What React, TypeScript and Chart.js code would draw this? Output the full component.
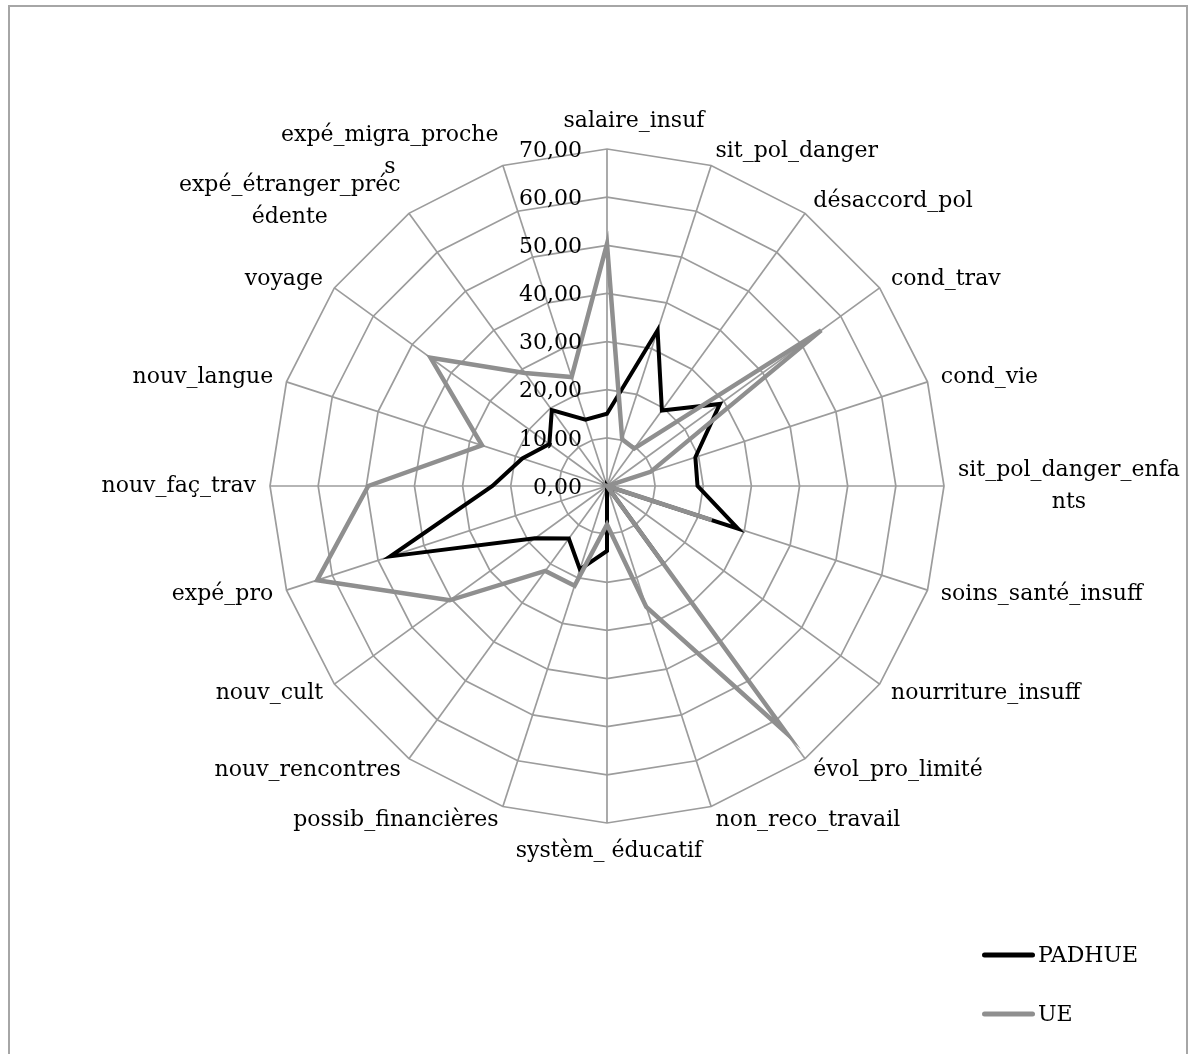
import React, { useEffect, useRef } from "react";
import { Chart, registerables } from "chart.js";

Chart.register(...registerables);

// ---- data ----
const categories: (string | string[])[] = [
  "salaire_insuf",
  "sit_pol_danger",
  "désaccord_pol",
  "cond_trav",
  "cond_vie",
  ["sit_pol_danger_enfa", "nts"],
  "soins_santé_insuff",
  "nourriture_insuff",
  "évol_pro_limité",
  "non_reco_travail",
  "systèm_ éducatif",
  "possib_financières",
  "nouv_rencontres",
  "nouv_cult",
  "expé_pro",
  "nouv_faç_trav",
  "nouv_langue",
  "voyage",
  ["expé_étranger_préc", "édente"],
  ["expé_migra_proche", "s"],
];

const padhueValues = [
  15, 34, 19.4, 29, 19.3, 18.8, 28.6, 0, 20, 0, 13.5, 18.2, 13.5, 18.5, 47.3, 23.8, 18.5, 14.8, 19.5, 14.5,
];

const ueValues = [
  50.3, 10.2, 9.6, 55, 9.5, 0, 22.9, 0, 63.4, 26.4, 8, 21.8, 21.8, 40.4, 63.3, 49.6, 27.3, 45.3, 29, 23.8,
];

const tickValues = [0, 10, 20, 30, 40, 50, 60, 70];

const seriesNames = ["PADHUE", "UE"];
const seriesColors = ["#000000", "#8f8f8f"];

// ---- drawing helpers ----
const FONT = '22px "DejaVu Serif"';

const excelLabelsPlugin = {
  id: "excelLabels",
  afterDraw(chart: any) {
    const scale = chart.scales.r;
    const ctx: CanvasRenderingContext2D = chart.ctx;
    ctx.save();
    ctx.font = FONT;
    ctx.fillStyle = "#000000";

    // tick labels, right-aligned left of the vertical axis
    ctx.textAlign = "right";
    ctx.textBaseline = "middle";
    tickValues.forEach((v) => {
      const d = scale.getDistanceFromCenterForValue(v);
      ctx.fillText(v.toFixed(2).replace(".", ","), scale.xCenter - 25, scale.yCenter - d + 2);
    });

    // category labels
    const labels = chart.data.labels as (string | string[])[];
    const n = labels.length;
    ctx.textAlign = "center";
    labels.forEach((lab, i) => {
      const lines = Array.isArray(lab) ? lab : [lab];
      const theta = (2 * Math.PI * i) / n;
      const s = Math.sin(theta);
      const c = Math.cos(theta);
      const vertical = Math.abs(s) < 1e-6;
      const g = vertical ? 15 : 2;
      const p = scale.getPointPosition(i, scale.drawingArea + g);
      const w = Math.max(...lines.map((l) => ctx.measureText(l).width));
      let cx: number;
      if (vertical) cx = p.x + (c > 0 ? 27 : 2);
      else if (s > 0) cx = p.x + 12 * s + w / 2;
      else cx = p.x + 12 * s - w / 2;
      const cy = p.y - c * 13;
      lines.forEach((l, k) => {
        ctx.fillText(l, cx, cy + (k - (lines.length - 1) / 2) * 32);
      });
    });

    // legend (bottom right)
    const x0 = 974.5;
    const y0 = 948;
    chart.data.datasets.forEach((ds: any, k: number) => {
      const y = y0 + k * 59;
      ctx.strokeStyle = ds.borderColor;
      ctx.lineWidth = 5;
      ctx.lineCap = "round";
      ctx.beginPath();
      ctx.moveTo(x0, y);
      ctx.lineTo(x0 + 48, y);
      ctx.stroke();
      ctx.textAlign = "left";
      ctx.textBaseline = "middle";
      ctx.fillText(ds.label, x0 + 53.5, y + 1);
    });

    ctx.restore();
  },
};

export default function App() {
  const canvasRef = useRef<HTMLCanvasElement | null>(null);

  useEffect(() => {
    const canvas = canvasRef.current;
    if (!canvas) return;
    Chart.defaults.font.family = '"DejaVu Serif"';
    const chart = new Chart(canvas, {
      type: "radar",
      data: {
        labels: categories as any,
        datasets: [
          {
            label: seriesNames[0],
            data: padhueValues,
            borderColor: seriesColors[0],
            backgroundColor: seriesColors[0],
            borderWidth: 4,
            pointRadius: 0,
            pointHoverRadius: 0,
            fill: false,
            order: 1,
            borderJoinStyle: "miter",
          },
          {
            label: seriesNames[1],
            data: ueValues,
            borderColor: seriesColors[1],
            backgroundColor: seriesColors[1],
            borderWidth: 4.5,
            pointRadius: 0,
            pointHoverRadius: 0,
            fill: false,
            order: 0,
            borderJoinStyle: "miter",
          },
        ],
      },
      options: {
        responsive: false,
        animation: false,
        layout: { padding: { left: 260, top: 142, right: 242, bottom: 244 } },
        plugins: {
          legend: { display: false },
          tooltip: { enabled: false },
        },
        scales: {
          r: {
            min: 0,
            max: 70,
            ticks: { display: false, stepSize: 10 },
            pointLabels: { display: false },
            grid: { color: "#9c9c9c", lineWidth: 1.7 },
            angleLines: { color: "#9c9c9c", lineWidth: 1.7 },
          },
        },
      } as any,
      plugins: [excelLabelsPlugin],
    });
    return () => chart.destroy();
  }, []);

  return (
    <div
      style={{
        position: "fixed",
        left: 8,
        top: 5,
        width: 1180,
        height: 1064,
        border: "2px solid #a6a6a6",
        boxSizing: "border-box",
        background: "#ffffff",
      }}
    >
      <canvas ref={canvasRef} width={1176} height={1060} style={{ display: "block" }} />
    </div>
  );
}
